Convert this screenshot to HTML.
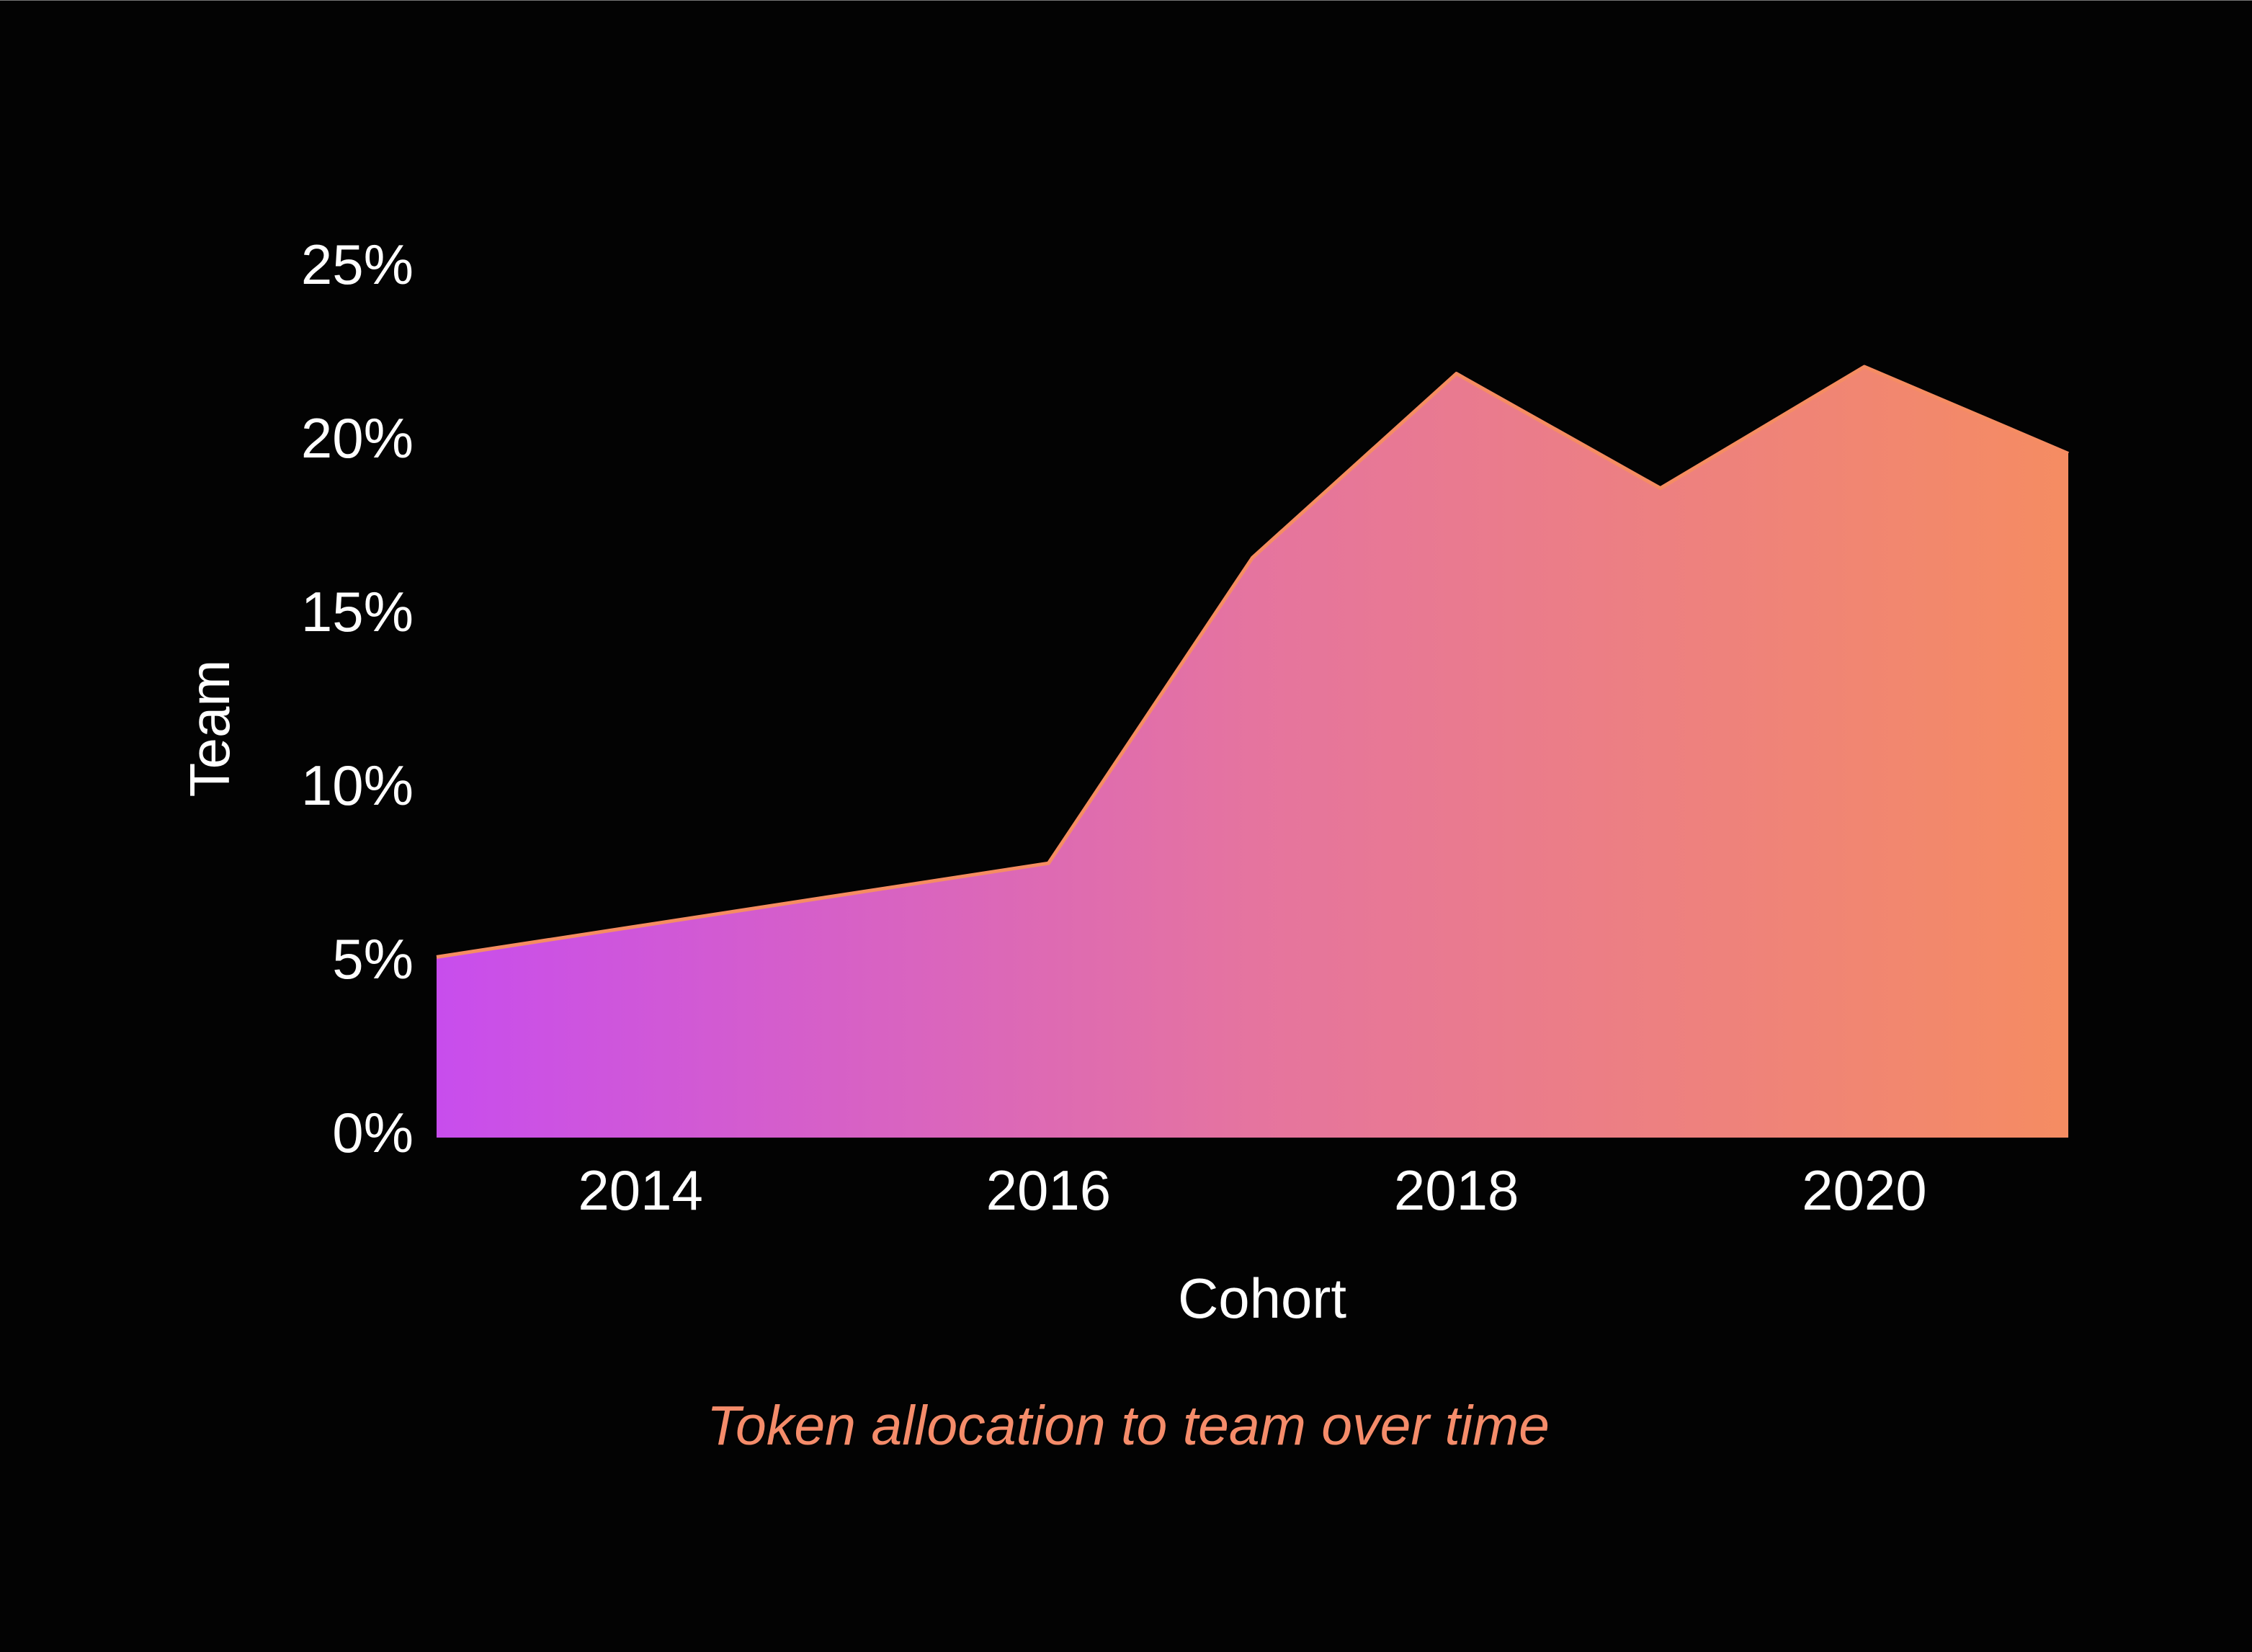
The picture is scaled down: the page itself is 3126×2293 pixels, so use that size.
<!DOCTYPE html>
<html><head><meta charset="utf-8"><style>
html,body{margin:0;padding:0;background:#030303;}
body{width:3126px;height:2293px;overflow:hidden;border-top:1px solid #777;box-sizing:border-box;}
svg{display:block;font-family:"Liberation Sans",Arial,sans-serif;}
</style></head><body>
<svg id="chart" width="3126" height="2292" viewBox="0 0 3126 2292">
<defs>
<linearGradient id="fillGrad" x1="0" y1="0" x2="1" y2="0">
<stop offset="0" stop-color="#c84ded"/>
<stop offset="0.5" stop-color="#e5749f"/>
<stop offset="1" stop-color="#f58c62"/>
</linearGradient>
</defs>
<g id="yticks"></g>
<g id="xticks"></g>
<g id="series"></g>
<text x="0" y="0" transform="translate(318,1010) rotate(-90)" text-anchor="middle" fill="#fff" font-size="78">Team</text>
<text x="1752" y="1828" text-anchor="middle" fill="#fff" font-size="78">Cohort</text>
<text x="1566" y="2004" text-anchor="middle" fill="#f58c6a" font-size="77" font-style="italic">Token allocation to team over time</text>
</svg>
<script>
const years = [2013, 2014, 2015, 2016, 2017, 2018, 2019, 2020, 2021];
const teamShare = [5.2, 6.1, 7.0, 7.9, 16.7, 22.0, 18.7, 22.2, 19.7];
const yTickValues = [0, 5, 10, 15, 20, 25];
const yTickLabels = ["0%", "5%", "10%", "15%", "20%", "25%"];
const xTickValues = [2014, 2016, 2018, 2020];
const xTickLabels = ["2014", "2016", "2018", "2020"];

const NS = "http://www.w3.org/2000/svg";
const x0 = 606, x1 = 2871, yBase = 1578, yPer = 48.2;
function xs(v){ return x0 + (v - years[0]) / (years[years.length-1] - years[0]) * (x1 - x0); }
function ys(v){ return yBase - v * yPer; }

const yg = document.getElementById('yticks');
yTickValues.forEach((v,i)=>{
  const t = document.createElementNS(NS,'text');
  
  
  t.setAttribute('x', 574);
  t.setAttribute('y', ys(v) + 20);
  t.setAttribute('text-anchor','end');
  t.setAttribute('fill','#fff');
  t.setAttribute('font-size','78');
  t.textContent = yTickLabels[i];
  yg.appendChild(t);
});
const xg = document.getElementById('xticks');
xTickValues.forEach((v,i)=>{
  const t = document.createElementNS(NS,'text');
  
  
  t.setAttribute('x', xs(v));
  t.setAttribute('y', 1678);
  t.setAttribute('text-anchor','middle');
  t.setAttribute('fill','#fff');
  t.setAttribute('font-size','78');
  t.textContent = xTickLabels[i];
  xg.appendChild(t);
});

const sg = document.getElementById('series');
let pts = years.map((y,i)=> xs(y).toFixed(1)+','+ys(teamShare[i]).toFixed(1));
const area = document.createElementNS(NS,'path');


area.setAttribute('d','M'+xs(years[0])+','+yBase+' L'+pts.join(' L')+' L'+xs(years[years.length-1])+','+yBase+' Z');
area.setAttribute('fill','url(#fillGrad)');
sg.appendChild(area);
const line = document.createElementNS(NS,'path');


line.setAttribute('d','M'+pts.join(' L'));
line.setAttribute('fill','none');
line.setAttribute('stroke','#f58c62');
line.setAttribute('stroke-width','5');
line.setAttribute('stroke-linejoin','round');
sg.appendChild(line);
</script>
</body></html>
